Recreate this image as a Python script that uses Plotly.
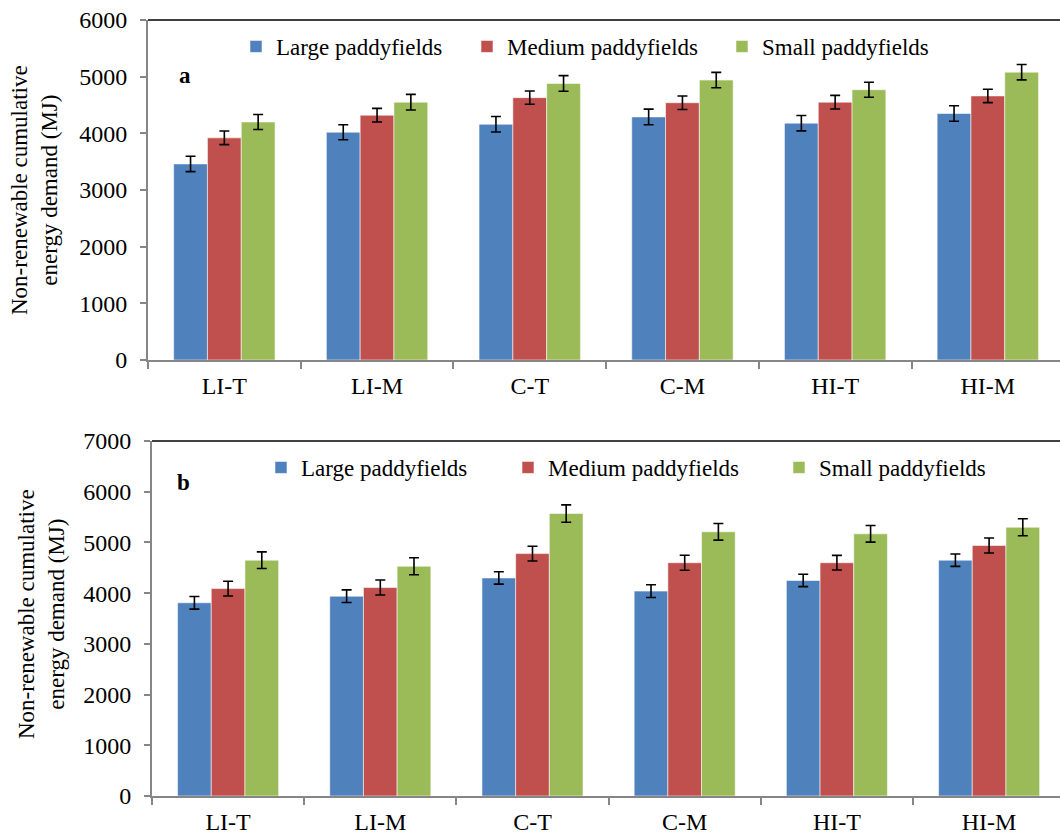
import plotly.graph_objects as go

# Tillage/irrigation scenarios on the x axis
categories = ["LI-T", "LI-M", "C-T", "C-M", "HI-T", "HI-M"]
series_names = ["Large paddyfields", "Medium paddyfields", "Small paddyfields"]
colors = ["#4F81BD", "#C0504D", "#9BBB59"]

# Panel a: non-renewable cumulative energy demand (MJ)
a_large = [3460, 4020, 4160, 4290, 4180, 4350]
a_medium = [3920, 4320, 4630, 4540, 4550, 4660]
a_small = [4200, 4550, 4880, 4940, 4770, 5080]
a_large_err = [135, 132, 136, 138, 136, 138]
a_medium_err = [120, 120, 118, 120, 120, 118]
a_small_err = [132, 138, 138, 136, 132, 136]

# Panel b: non-renewable cumulative energy demand (MJ)
b_large = [3810, 3940, 4300, 4040, 4250, 4650]
b_medium = [4090, 4110, 4780, 4600, 4600, 4940]
b_small = [4650, 4530, 5570, 5210, 5170, 5300]
b_large_err = [125, 125, 122, 125, 122, 122]
b_medium_err = [145, 148, 145, 148, 145, 148]
b_small_err = [164, 167, 171, 164, 164, 167]

W, H = 1060, 834
FONT = "Times New Roman, Liberation Serif, serif"
AXIS_GRAY = "#868686"


def px_x(p):
    return p / W


def px_y(p):
    return 1 - p / H


fig = go.Figure()

panels = [
    ("x", "y", [a_large, a_medium, a_small], [a_large_err, a_medium_err, a_small_err],
     ["legend", "legend2", "legend3"]),
    ("x2", "y2", [b_large, b_medium, b_small], [b_large_err, b_medium_err, b_small_err],
     ["legend4", "legend5", "legend6"]),
]

for xa, ya, vals, errs, legs in panels:
    for name, color, v, e, lg in zip(series_names, colors, vals, errs, legs):
        fig.add_trace(go.Bar(
            x=categories, y=v, name=name, xaxis=xa, yaxis=ya, legend=lg, showlegend=True,
            marker=dict(color=color, line=dict(color="rgba(255,255,255,0.55)", width=1)),
            error_y=dict(type="data", array=e, visible=True, color="black",
                         thickness=1.6, width=5),
        ))

# pixel geometry of each panel: (axis x, plot top, plot bottom, category width)
geo_a = dict(left=148, top=20, bottom=360, cw=152.7)
geo_b = dict(left=152, top=441, bottom=796, cw=152.2)


def xaxis_cfg(g):
    right_cut = (g["left"] + 6 * g["cw"] - W) / g["cw"]
    return dict(
        domain=[px_x(g["left"]), 1], type="category", range=[-0.5, 5.5 - right_cut],
        tickson="boundaries", ticks="outside", ticklen=7, tickwidth=1.5, tickcolor=AXIS_GRAY,
        showline=True, linecolor=AXIS_GRAY, linewidth=2, showgrid=False, zeroline=False,
        tickfont=dict(family=FONT, size=24, color="black"), ticklabelstandoff=3,
        fixedrange=True, automargin=False,
    )


def yaxis_cfg(g, top_val):
    return dict(
        domain=[px_y(g["bottom"]), px_y(g["top"])], range=[0, top_val], dtick=1000,
        ticks="outside", ticklen=6, tickwidth=1.5, tickcolor=AXIS_GRAY,
        showline=True, linecolor=AXIS_GRAY, linewidth=2, showgrid=False, zeroline=False,
        tickfont=dict(family=FONT, size=24, color="black"), ticklabelstandoff=8,
        fixedrange=True, automargin=False,
    )


layout = dict(
    width=W, height=H, margin=dict(l=0, r=0, t=0, b=0, pad=0, autoexpand=False),
    paper_bgcolor="white", plot_bgcolor="white", showlegend=True,
    barmode="group", bargap=0.336, bargroupgap=0,
    font=dict(family=FONT, size=23, color="black"),
    xaxis=dict(xaxis_cfg(geo_a), anchor="y"),
    yaxis=dict(yaxis_cfg(geo_a, 6000), anchor="x"),
    xaxis2=dict(xaxis_cfg(geo_b), anchor="y2"),
    yaxis2=dict(yaxis_cfg(geo_b, 7000), anchor="x2"),
)

# one legend entry per box so each swatch sits where it belongs
legend_pos = {
    "legend": (250, 42), "legend2": (481, 42), "legend3": (736, 42),
    "legend4": (275, 463), "legend5": (522, 463), "legend6": (793, 463),
}
for key, (sx, sy) in legend_pos.items():
    layout[key] = dict(
        xref="paper", yref="paper", visible=True,
        x=(sx - 14) / W, y=1 - (sy - 17) / H, xanchor="left", yanchor="top",
        orientation="h", bgcolor="rgba(0,0,0,0)", borderwidth=0,
        font=dict(family=FONT, size=23, color="black"),
    )

fig.update_layout(**layout)

# chart border line along the top of each panel
for g in (geo_a, geo_b):
    fig.add_shape(type="line", xref="paper", yref="paper",
                  x0=px_x(g["left"]), x1=1, y0=px_y(g["top"]), y1=px_y(g["top"]),
                  line=dict(color="black", width=1.5))

# panel letters and y axis titles
ytitle = "Non-renewable cumulative<br>energy demand (MJ)"
notes = [
    ("<b>a</b>", 185, 76, 0),
    ("<b>b</b>", 183, 483, 0),
    (ytitle, 34, 190, -90),
    (ytitle, 41, 614, -90),
]
for text, nx, ny, ang in notes:
    fig.add_annotation(text=text, textangle=ang, x=px_x(nx), y=px_y(ny),
                       xref="paper", yref="paper", xanchor="center", yanchor="middle",
                       showarrow=False, font=dict(family=FONT, size=23, color="black"))

fig.write_html("out.html")
